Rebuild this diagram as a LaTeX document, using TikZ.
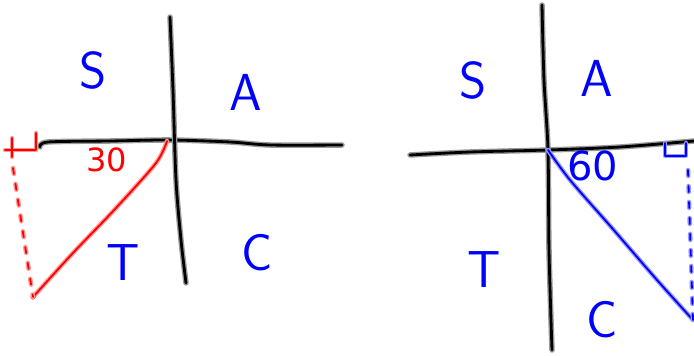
\documentclass[tikz,border=0pt]{standalone}
\usepackage{fontspec}
\setmainfont{DejaVu Sans}

\tikzset{
  ink/.style={line width=2.8pt, line cap=round, line join=round, draw=#1,
    preaction={draw=#1!40, line width=5.5pt, line cap=round, line join=round}},
  ray/.style={line width=1.8pt, line cap=round, line join=round, draw=#1,
    preaction={draw=#1!40, line width=4.5pt, line cap=round, line join=round}},
  drop/.style={line width=1.8pt, line cap=round, draw=#1, dash pattern=on 6pt off 10pt,
    preaction={draw=#1!40, line width=4.5pt, line cap=round, dash pattern=on 6pt off 10pt}},
  quad/.style={text=blue, font=\fontsize{52}{52}\selectfont\sffamily},
  angle/.style={text=#1, font=\fontsize{32}{32}\selectfont},
}

\begin{document}
\begin{tikzpicture}[x=1pt, y=-1pt]

\useasboundingbox (0,0) rectangle (694,356);

% Left axes
\draw[ink=black] plot[smooth] coordinates {(40,147) (48,142) (110,141) (170,140) (230,142) (270,145) (342,145)};
\draw[ink=black] plot[smooth] coordinates {(170,17) (173,90) (176,180) (181,240) (186,283)};
\coordinate (o1) at (172,140);

% Left quadrants
\node[quad] (s1) at (93,70) {S};
\node[quad] (a1) at (246,92) {A};
\node[quad] (t1) at (123,263) {T};
\node[quad] (c1) at (257,253) {C};

% 210 degree ray
\coordinate (p1) at (33,297);
\draw[ray=red] plot[smooth] coordinates {(167,141) (156,163) (116,208) (72,254) (33,297)};
\fill[red] (p1) circle (2.5pt);
\draw[drop=red] (13,168) -- (p1);
\draw[ray=red] (12,138) -- (12,157) (5,150) -- (36,150) -- (36,133);
\node[angle=red] (n30) at (107,160) {30};

% Right axes
\draw[ink=black] plot[smooth] coordinates {(410,155) (470,152) (548,150) (620,147) (694,141)};
\draw[ink=black] plot[smooth] coordinates {(542,5) (544,80) (548,150) (549,250) (552,350)};
\coordinate (o2) at (548,150);

% Right quadrants
\node[quad] (s2) at (473,80) {S};
\node[quad] (a2) at (597,78) {A};
\node[quad] (t2) at (484,270) {T};
\node[quad] (c2) at (602,320) {C};

% 300 degree ray
\coordinate (p2) at (693,320);
\draw[ray=blue] plot[smooth] coordinates {(o2) (570,180) (612,228) (657,280) (p2)};
\draw[drop=blue] (688,170) -- (p2);
\draw[ray=blue] (665,143) -- (665,156) -- (686,156) -- (686,143);
\node[angle=blue, font=\fontsize{40}{40}\selectfont] (n60) at (593,166) {60};

\end{tikzpicture}
\end{document}
